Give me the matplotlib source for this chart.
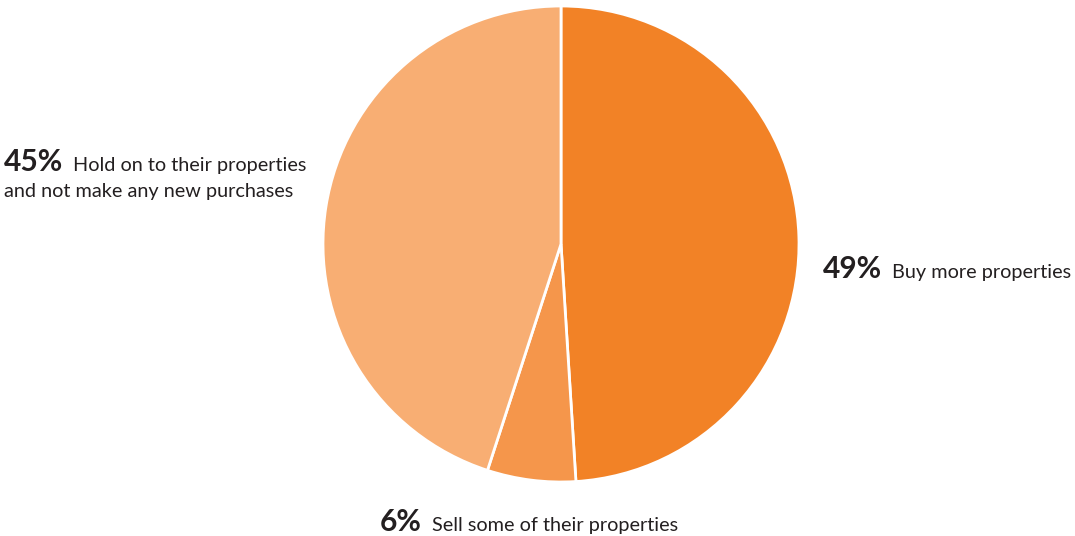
import matplotlib
matplotlib.use("Agg")
import matplotlib.pyplot as plt

# Survey shares, clockwise from 12 o'clock
shares = [49, 6, 45]
descriptions = [
    "Buy more properties",
    "Sell some of their properties",
    "Hold on to their properties",
]
colors = ["#F28226", "#F5964B", "#F8AE73"]
text_color = "#231F20"

plt.rcParams['font.family'] = ['Lato', 'DejaVu Sans']

W, H = 1075, 536
fig = plt.figure(figsize=(W / 100, H / 100), dpi=100)
fig.patch.set_facecolor("white")

# Pie axes: centre (561, 244) px, radius 238 px
cx, cy, r = 561, 244, 238
ax = fig.add_axes([(cx - r) / W, (H - cy - r) / H, 2 * r / W, 2 * r / H])
ax.pie(shares, colors=colors, startangle=90, counterclock=False, radius=1,
       wedgeprops=dict(edgecolor="white", linewidth=2))
ax.set_xlim(-1, 1)
ax.set_ylim(-1, 1)
ax.set_aspect("equal")
ax.axis("off")

renderer = fig.canvas.get_renderer()


def label(x, y, pct, desc, extra=None):
    """Bold percentage followed by a plain description; y is baseline in px from top."""
    t = fig.text(x / W, 1 - y / H, f"{pct}%", fontsize=21.5, fontweight="bold",
                 color=text_color, va="baseline", ha="left")
    bb = t.get_window_extent(renderer)
    fig.text((bb.x1 + 10) / W, 1 - y / H, desc, fontsize=14.3,
             color=text_color, va="baseline", ha="left")
    if extra:
        fig.text(x / W, 1 - (y + 26) / H, extra, fontsize=14.3,
                 color=text_color, va="baseline", ha="left")


label(823, 278, shares[0], descriptions[0])
label(380, 531, shares[1], descriptions[1])
label(4, 171, shares[2], descriptions[2], "and not make any new purchases")

fig.savefig("out.png", dpi=100, facecolor="white")
